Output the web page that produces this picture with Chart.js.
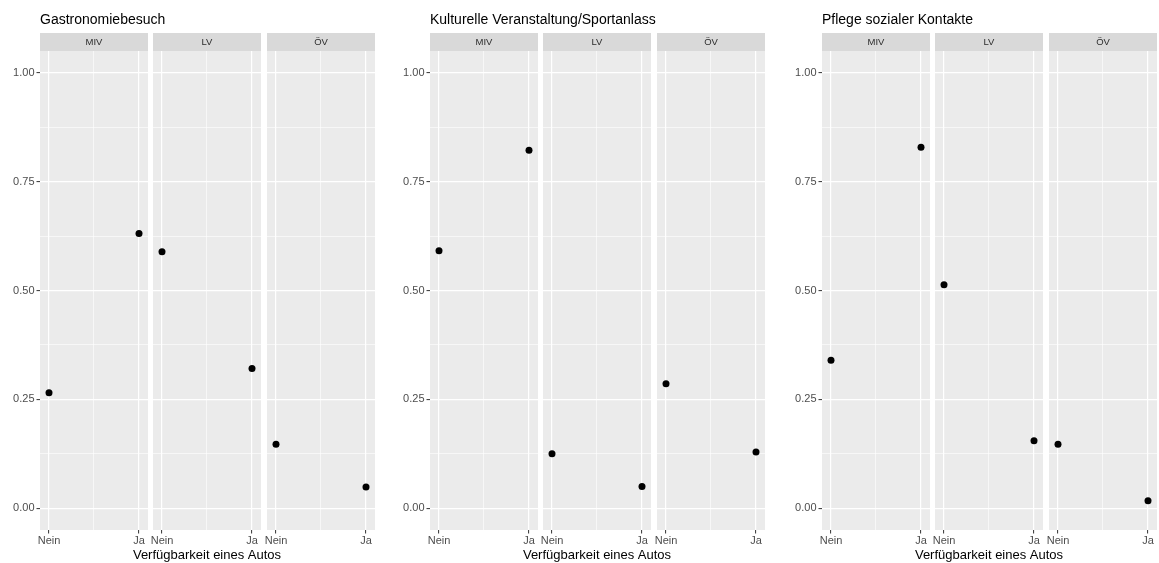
<!DOCTYPE html>
<html>
<head>
<meta charset="utf-8">
<script src="https://cdn.jsdelivr.net/npm/chart.js@4/dist/chart.umd.min.js"></script>
<style>
  html, body { margin: 0; padding: 0; background: #ffffff; overflow: hidden; }
  #wrap { position: relative; width: 1159px; height: 563px; }
  #wrap canvas { position: absolute; top: 0; }
</style>
</head>
<body>
<div id="wrap"></div>
<script>
// Kategorien und Werte
const autoVerfuegbar = ["Nein", "Ja"];
const verkehrsmittel = ["MIV", "LV", "ÖV"];
const aktivitaeten = ["Gastronomiebesuch", "Kulturelle Veranstaltung/Sportanlass", "Pflege sozialer Kontakte"];
// Anteile je Verkehrsmittel (MIV, LV, ÖV), jeweils [Nein, Ja]
const anteilGastronomie = [[0.265, 0.631], [0.589, 0.321], [0.147, 0.049]];
const anteilKultur      = [[0.591, 0.822], [0.125, 0.050], [0.286, 0.129]];
const anteilKontakte    = [[0.340, 0.829], [0.513, 0.155], [0.147, 0.017]];
const yMajorTicks = [0, 0.25, 0.5, 0.75, 1];
const yMinorTicks = [0.125, 0.375, 0.625, 0.875];
const xAxisTitle = "Verfügbarkeit eines Autos";

const anteile = [anteilGastronomie, anteilKultur, anteilKontakte];

// Layout (Pixel)
const FONT = "'Liberation Sans', Arial, Helvetica, sans-serif";
const H = 563;
const STRIP_TOP = 33;
const PANEL_TOP = 51;
const PANEL_BOTTOM = 530;
const PANEL_W = 108;
const Y_AXIS_W = 40;
const SIDE_PAD = 30;
const groupLeft = [40, 430, 822];
const panelOffset = [0, 113, 227];

Chart.defaults.font.family = FONT;

const isMajorY = v => yMajorTicks.some(t => Math.abs(t - v) < 1e-9);

// Panel-Hintergrund, Facetten-Streifen, Titel und Achsentitel
const panelPlugin = {
  id: 'facetPanel',
  beforeDraw(chart, args, opts) {
    const { ctx, chartArea: a } = chart;
    const cx = (a.left + a.right) / 2;
    ctx.save();
    ctx.fillStyle = '#EBEBEB';
    ctx.fillRect(a.left, a.top, a.right - a.left, a.bottom - a.top);
    ctx.fillStyle = '#D9D9D9';
    ctx.fillRect(a.left, STRIP_TOP, a.right - a.left, a.top - STRIP_TOP);
    ctx.fillStyle = '#2B2B2B';
    ctx.font = '9.5px ' + FONT;
    ctx.textAlign = 'center';
    ctx.textBaseline = 'alphabetic';
    ctx.fillText(opts.strip, cx, 45.3);
    if (opts.title) {
      ctx.fillStyle = '#000000';
      ctx.font = '14px ' + FONT;
      ctx.textAlign = 'left';
      ctx.fillText(opts.title, a.left, 23.5);
    }
    if (opts.axisTitle) {
      ctx.fillStyle = '#000000';
      ctx.font = '13px ' + FONT;
      ctx.textAlign = 'center';
      ctx.fillText(opts.axisTitle, cx, 558.5);
    }
    ctx.restore();
  }
};

const wrap = document.getElementById('wrap');

aktivitaeten.forEach((aktivitaet, g) => {
  verkehrsmittel.forEach((modus, m) => {
    const first = m === 0;
    const mid = m === 1;
    const panelLeft = groupLeft[g] + panelOffset[m];
    const leftSpace = first ? Y_AXIS_W : SIDE_PAD;
    const rightSpace = first ? 300 : (mid ? 60 : SIDE_PAD);
    const leftPad = first ? 0 : (mid ? 60 : SIDE_PAD);
    const canvas = document.createElement('canvas');
    const w = (first ? Y_AXIS_W : leftPad) + PANEL_W + rightSpace;
    canvas.width = w;
    canvas.height = H;
    canvas.style.width = w + 'px';
    canvas.style.height = H + 'px';
    canvas.style.left = (panelLeft - (first ? Y_AXIS_W : leftPad)) + 'px';
    wrap.appendChild(canvas);

    const werte = anteile[g][m];

    new Chart(canvas, {
      type: 'scatter',
      data: {
        datasets: [{
          data: autoVerfuegbar.map((k, i) => ({ x: i, y: werte[i] })),
          backgroundColor: '#000000',
          borderWidth: 0,
          pointRadius: 3.5,
          pointHoverRadius: 3.5
        }]
      },
      options: {
        responsive: false,
        animation: false,
        events: [],
        layout: {
          padding: { top: PANEL_TOP, bottom: 0, left: leftPad, right: rightSpace }
        },
        plugins: {
          legend: { display: false },
          tooltip: { enabled: false },
          facetPanel: {
            strip: modus,
            title: first ? aktivitaet : null,
            axisTitle: mid ? xAxisTitle : null
          }
        },
        scales: {
          x: {
            type: 'linear',
            min: -0.1,
            max: 1.1,
            border: { display: false },
            afterBuildTicks: s => { s.ticks = [0, 0.5, 1].map(v => ({ value: v })); },
            afterFit: s => { s.height = H - PANEL_BOTTOM; },
            grid: {
              color: '#FFFFFF',
              lineWidth: c => (c.tick && c.tick.value === 0.5) ? 0.6 : 1.2,
              drawTicks: true,
              tickLength: 3.5,
              tickWidth: 1,
              tickColor: c => (c.tick && c.tick.value === 0.5) ? 'rgba(0,0,0,0)' : '#333333'
            },
            ticks: {
              autoSkip: false,
              maxRotation: 0,
              padding: 1,
              color: '#4D4D4D',
              font: { size: 11, family: FONT },
              callback: v => (Number.isInteger(v) ? autoVerfuegbar[v] : '')
            }
          },
          y: {
            type: 'linear',
            min: -0.05,
            max: 1.05,
            border: { display: false },
            afterBuildTicks: s => {
              s.ticks = yMajorTicks.concat(yMinorTicks).sort((a, b) => a - b).map(v => ({ value: v }));
            },
            afterFit: s => { s.width = first ? Y_AXIS_W : 0; },
            grid: {
              color: '#FFFFFF',
              lineWidth: c => (c.tick && isMajorY(c.tick.value)) ? 1.2 : 0.6,
              drawTicks: first,
              tickLength: 3.5,
              tickWidth: 1,
              tickColor: c => (c.tick && isMajorY(c.tick.value)) ? '#333333' : 'rgba(0,0,0,0)'
            },
            ticks: {
              display: first,
              padding: 2,
              color: '#4D4D4D',
              font: { size: 11, family: FONT },
              callback: v => (isMajorY(v) ? v.toFixed(2) : '')
            }
          }
        }
      },
      plugins: [panelPlugin]
    });
  });
});
</script>
</body>
</html>
